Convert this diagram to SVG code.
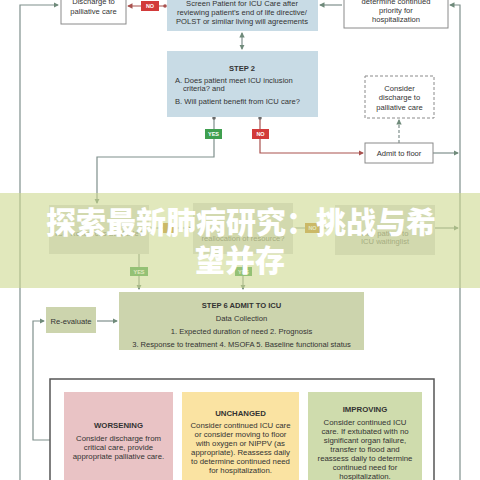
<svg xmlns="http://www.w3.org/2000/svg" width="480" height="480" viewBox="0 0 480 480">
<style>
text{font-family:"Liberation Sans","Noto Sans",Arial,sans-serif;fill:#333;text-anchor:middle;font-size:7.6px}
.b{font-weight:bold}
.s{text-anchor:start}
.box{fill:#fff;stroke:#8a8a8a;stroke-width:1}
.blue{fill:#c8dbe5}
.olive{fill:#ccd4ad}
.c{fill:none;stroke:#7f8f8c;stroke-width:1.2}
.r{fill:none;stroke:#a9524f;stroke-width:1.2}
.lab{font-size:5.5px;font-weight:bold;fill:#fff}
.o{font-size:7.8px}
.f{fill:#6a6a6a}
.cjk{font-family:"Noto Sans CJK SC","Noto Sans",sans-serif;font-weight:900;font-size:30px;fill:#fff}
</style>
<defs>
<marker id="ag" viewBox="0 0 6 6" refX="5" refY="3" markerWidth="4.5" markerHeight="4.5" orient="auto-start-reverse"><path d="M0,0L6,3L0,6z" fill="#6f8a7a"/></marker>
<marker id="ar" viewBox="0 0 6 6" refX="5" refY="3" markerWidth="4.5" markerHeight="4.5" orient="auto-start-reverse"><path d="M0,0L6,3L0,6z" fill="#a9524f"/></marker>
<marker id="dot" viewBox="0 0 6 6" refX="3" refY="3" markerWidth="3" markerHeight="3"><circle cx="3" cy="3" r="3" fill="#6a6a6a"/></marker>
<marker id="dotr" viewBox="0 0 6 6" refX="3" refY="3" markerWidth="3" markerHeight="3"><circle cx="3" cy="3" r="3" fill="#a9524f"/></marker>
</defs>
<rect width="480" height="480" fill="#fff"/>

<g id="connectors">
<path class="c" d="M20,482V5H58" marker-end="url(#ag)"/>
<path class="c" d="M460,482V5H450" marker-end="url(#ag)"/>
<path class="c" d="M342,5H320" marker-end="url(#ag)"/>
<path class="r" d="M165,6H128" marker-end="url(#ar)" marker-start="url(#dotr)"/>
<path class="c" d="M242,33V49" marker-start="url(#ag)" marker-end="url(#ag)"/>
<path class="c" d="M214,118V157H97V203" marker-start="url(#dot)" marker-end="url(#ag)"/>
<path class="r" d="M260,118V153H363" marker-start="url(#dot)" marker-end="url(#ar)"/>
<path class="c" d="M433,153H458" marker-end="url(#ag)"/>
<path class="c" d="M399,143V120" stroke-dasharray="3,2" marker-end="url(#ag)"/>
<path class="c" d="M149,228H191" marker-end="url(#ag)"/>
<path class="c" d="M293,228H333" marker-end="url(#ag)"/>
<path class="c" d="M435,228H458" marker-end="url(#ag)"/>
<path class="c" d="M139,254V289" marker-end="url(#ag)"/>
<path class="c" d="M243,254V289" marker-end="url(#ag)"/>
<path class="c" d="M52,440H33V321H44" marker-end="url(#ag)"/>
<path class="c" d="M97,321H117" marker-end="url(#ag)"/>
<rect x="141" y="1" width="18" height="10" fill="#d23a3a"/><text class="lab" x="150" y="8">NO</text>
<rect x="205" y="129" width="17" height="10" fill="#3f9f4f"/><text class="lab" x="213.5" y="136">YES</text>
<rect x="252" y="129" width="17" height="10" fill="#d23a3a"/><text class="lab" x="260.5" y="136">NO</text>
<rect x="163" y="223" width="11" height="10" fill="#c98a2c"/>
<rect x="305" y="223" width="15" height="10" fill="#c98a2c"/><text class="lab" x="312.5" y="230">NO</text>
<rect x="130" y="267" width="18" height="9" fill="#3f9f4f"/><text class="lab" x="139" y="273.5">YES</text>
<rect x="235" y="267" width="17" height="9" fill="#3f9f4f"/><text class="lab" x="243.5" y="273.5">YES</text>
</g>

<g id="discharge-top">
<rect class="box" x="61" y="-3" width="65" height="27"/>
<text x="93.5" y="4">Discharge to</text>
<text x="93.5" y="14">palliative care</text>
</g>
<g id="screen">
<rect class="blue" x="167" y="-3" width="151" height="34"/>
<text x="242" y="6" font-size="8">Screen Patient for ICU Care after</text>
<text x="242" y="15" font-size="8">reviewing patient’s end of life directive/</text>
<text x="242" y="24" font-size="8">POLST or similar living will agreements</text>
</g>
<g id="priority">
<rect class="box" x="344" y="-3" width="104" height="31"/>
<text x="396" y="4">determine continued</text>
<text x="396" y="13">priority for</text>
<text x="396" y="22">hospitalization</text>
</g>
<g id="step2">
<rect class="blue" x="167" y="51" width="151" height="66"/>
<text class="b" x="242" y="71" font-size="8.5">STEP 2</text>
<text class="s" x="175" y="82.5">A. Does patient meet ICU inclusion</text>
<text class="s" x="183" y="91">criteria? and</text>
<text class="s" x="175" y="104">B. Will patient benefit from ICU care?</text>
</g>
<g id="consider-discharge">
<rect x="365" y="76" width="69" height="42" fill="#fff" stroke="#8a8a8a" stroke-dasharray="3,2"/>
<text x="399.5" y="90.5">Consider</text>
<text x="399.5" y="100">discharge to</text>
<text x="399.5" y="110">palliative care</text>
</g>
<g id="admit-floor">
<rect class="box" x="365" y="143" width="68" height="20"/>
<text x="399" y="156" font-size="8">Admit to floor</text>
</g>
<g id="step3">
<rect x="49" y="205" width="100" height="49" fill="#d9d9dc"/>
<text class="f" x="99" y="235.5">ICU Resources available?</text>
</g>
<g id="step4">
<rect x="193" y="203" width="100" height="51" fill="#d9d9dc"/>
<text class="f" x="243" y="241">reallocation of resource?</text>
</g>
<g id="step5">
<rect x="335" y="205" width="100" height="50" fill="#d9d9dc"/>
<text class="f" x="385" y="235.5">Add patient to</text>
<text class="f" x="385" y="244">ICU waitinglist</text>
</g>
<g id="re-evaluate">
<rect class="olive" x="46" y="307" width="50" height="26"/>
<text x="71" y="324" font-size="8">Re-evaluate</text>
</g>
<g id="step6">
<rect class="olive" x="119" y="292" width="245" height="58"/>
<text class="b" x="241.5" y="307.5" font-size="9.2">STEP 6 ADMIT TO ICU</text>
<text x="241.5" y="320.5" font-size="8.3">Data Collection</text>
<text x="241.5" y="333.5" font-size="8.3">1. Expected duration of need 2. Prognosis</text>
<text x="241.5" y="346.5" font-size="8.3">3. Response to treatment 4. MSOFA 5. Baseline functional status</text>
</g>
<g id="outcomes">
<rect x="50" y="379" width="384" height="110" fill="#fff" stroke="#555" stroke-width="1.5"/>
</g>
<g id="worsening">
<rect x="64" y="392" width="109" height="95" fill="#e9c3c5"/>
<text class="b o" x="118.5" y="428">WORSENING</text>
<text class="o" x="118.5" y="441">Consider discharge from</text>
<text class="o" x="118.5" y="450">critical care, provide</text>
<text class="o" x="118.5" y="459">appropriate palliative care.</text>
</g>
<g id="unchanged">
<rect x="182" y="392" width="117" height="95" fill="#fae3a2"/>
<text class="b o" x="240.5" y="416">UNCHANGED</text>
<text class="o" x="240.5" y="428">Consider continued ICU care</text>
<text class="o" x="240.5" y="437">or consider moving to floor</text>
<text class="o" x="240.5" y="446">with oxygen or NIPPV (as</text>
<text class="o" x="240.5" y="455">appropriate). Reassess daily</text>
<text class="o" x="240.5" y="464">to determine continued need</text>
<text class="o" x="240.5" y="473">for hospitalization.</text>
</g>
<g id="improving">
<rect x="308" y="392" width="114" height="95" fill="#cfdcad"/>
<text class="b o" x="365" y="412">IMPROVING</text>
<text class="o" x="365" y="424.5">Consider continued ICU</text>
<text class="o" x="365" y="433.5">care. If extubated with no</text>
<text class="o" x="365" y="442.5">significant organ failure,</text>
<text class="o" x="365" y="451.5">transfer to flood and</text>
<text class="o" x="365" y="460.5">reassess daily to determine</text>
<text class="o" x="365" y="469.5">continued need for</text>
<text class="o" x="365" y="478.5">hospitalization.</text>
</g>

<g id="banner">
<rect x="0" y="193" width="480" height="95" fill="#cdd98f" opacity="0.6"/>
<text class="cjk" x="241" y="233">探索最新肺病研究：挑战与希</text>
<text class="cjk" x="240" y="271">望并存</text>
</g>
</svg>
